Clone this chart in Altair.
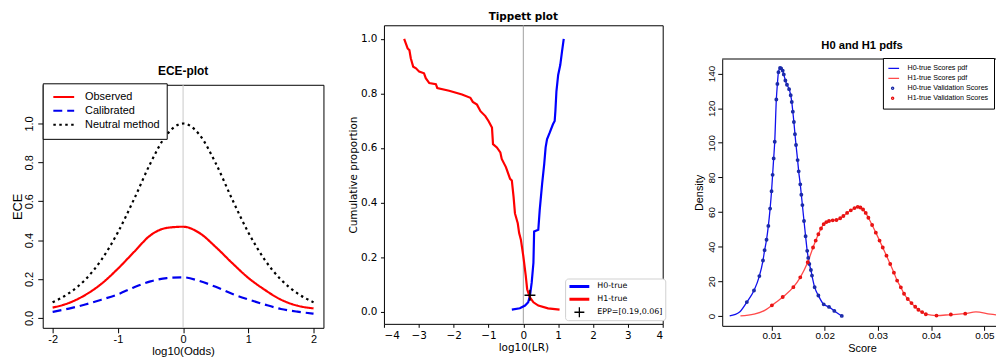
import altair as alt
import pandas as pd

# ---------------- data: ECE plot ----------------
ece_x = [-2.0, -1.75, -1.5, -1.25, -1.0, -0.75, -0.5, -0.25, 0.0, 0.25, 0.5, 0.75, 1.0, 1.25, 1.5, 1.75, 2.0]
ece_observed = [0.053, 0.077, 0.118, 0.176, 0.253, 0.340, 0.425, 0.463, 0.469, 0.437, 0.365, 0.283, 0.206, 0.145, 0.094, 0.063, 0.049]
ece_calibrated = [0.031, 0.048, 0.069, 0.094, 0.121, 0.158, 0.188, 0.205, 0.209, 0.190, 0.160, 0.124, 0.095, 0.069, 0.046, 0.032, 0.022]
ece_neutral = [0.080, 0.127, 0.197, 0.300, 0.440, 0.612, 0.796, 0.943, 1.000, 0.943, 0.796, 0.612, 0.440, 0.300, 0.197, 0.127, 0.080]
ece_series = ["Observed", "Calibrated", "Neutral method"]

# ---------------- data: Tippett plot ----------------
h1_lr = [-3.42, -3.37, -3.32, -3.27, -3.23, -3.16, -3.08, -2.99, -2.85, -2.80, -2.70, -2.51, -2.47, -2.13,
         -1.76, -1.52, -1.45, -1.33, -1.23, -1.09, -1.00, -0.95, -0.90, -0.87, -0.76, -0.66, -0.62, -0.50,
         -0.38, -0.33, -0.28, -0.24, -0.16, -0.12, -0.07, 0.00, 0.07, 0.11, 0.19, 0.29, 0.43, 0.71, 1.04]
h1_prop = [1.000, 0.983, 0.965, 0.959, 0.929, 0.898, 0.892, 0.880, 0.874, 0.856, 0.838, 0.834, 0.820, 0.810,
           0.796, 0.784, 0.769, 0.759, 0.735, 0.717, 0.699, 0.687, 0.675, 0.614, 0.602, 0.584, 0.560, 0.530,
           0.487, 0.481, 0.421, 0.360, 0.324, 0.288, 0.264, 0.203, 0.131, 0.082, 0.052, 0.034, 0.022, 0.012, 0.007]
h0_lr = [-0.33, -0.10, 0.05, 0.14, 0.19, 0.24, 0.29, 0.31, 0.43, 0.47, 0.54, 0.60, 0.64, 0.68, 0.76, 0.85,
         0.90, 0.92, 0.95, 1.00, 1.06, 1.11, 1.16]
h0_prop = [0.007, 0.012, 0.022, 0.034, 0.058, 0.106, 0.179, 0.294, 0.300, 0.372, 0.469, 0.542, 0.602, 0.632,
           0.657, 0.687, 0.699, 0.735, 0.808, 0.868, 0.904, 0.953, 1.000]
epp_lr = [0.19]
epp_prop = [0.06]
tip_series = ["H0-true", "H1-true", "EPP=[0.19,0.06]"]

# ---------------- data: H0 and H1 pdfs ----------------
h0_score = [0.00213, 0.0040, 0.00536, 0.0067, 0.00771, 0.00839, 0.0087, 0.00906, 0.0094, 0.00973, 0.0100,
            0.0102, 0.0104, 0.0106, 0.0109, 0.0111, 0.0113, 0.0116, 0.0118, 0.0121, 0.0123, 0.0126, 0.0129,
            0.0133, 0.0136, 0.0138, 0.0140, 0.0142, 0.0144, 0.0146, 0.0149, 0.0151, 0.0154, 0.0156, 0.0158,
            0.0161, 0.0164, 0.0167, 0.0169, 0.0171, 0.0174, 0.0176, 0.0181, 0.0188, 0.0198, 0.0208, 0.0218,
            0.0232]
h0_density = [0, 2.3, 8, 14.7, 23, 32, 38, 44, 52, 62, 72,
              81.5, 91, 100.6, 125, 134, 140.8, 143.2, 143, 141.7, 139.5, 136, 133.5,
              131, 127.5, 123.6, 118, 112, 105, 98.7, 90, 83.5, 76, 70, 64,
              54.8, 46, 37.6, 33.5, 30, 26.5, 23.3, 16.6, 11.8, 6.7, 5.2, 2.9,
              0]
h1_score = [0.00415, 0.0067, 0.00872, 0.01007, 0.0121, 0.0141, 0.0154, 0.0168, 0.0178, 0.0183, 0.0188,
            0.0193, 0.0198, 0.0203, 0.0208, 0.0215, 0.0222, 0.0229, 0.0235, 0.0242, 0.0249, 0.0256, 0.0262,
            0.0267, 0.0272, 0.0277, 0.0282, 0.0289, 0.0296, 0.0303, 0.0309, 0.0316, 0.0323, 0.0330, 0.0336,
            0.0343, 0.0349, 0.0356, 0.0363, 0.0370, 0.0376, 0.0383, 0.0390, 0.0410, 0.0437, 0.0464, 0.0484,
            0.0511, 0.0551]
h1_density = [0, 1, 3.2, 6.1, 10.9, 16.6, 22.3, 31, 39.5, 43.5, 47.2,
              50.5, 53, 54.2, 54.8, 55.2, 55.4, 56.4, 57.7, 59.5, 61, 62.3, 63,
              62.6, 61.5, 59.5, 56.7, 52.5, 48.1, 43.5, 39.5, 34.8, 30, 25, 20.4,
              16.5, 12.8, 9.8, 7.4, 5.3, 3.6, 2.2, 1, 0.2, 0.8, 1.3, 2.3,
              1, 0]
h0_dot_range = [0.0049, 0.0233]
h1_dot_range = [0.0100, 0.0465]
pdf_entries = ["H0-true Scores pdf", "H1-true Scores pdf", "H0-true Validation Scores", "H1-true Validation Scores"]

R_FONT = "Liberation Sans"
MPL_FONT = "DejaVu Sans"


def spacer(w, h):
    return alt.Chart(pd.DataFrame({"s": [0]})).mark_rect(opacity=0).encode(
        x=alt.value(0), x2=alt.value(1), y=alt.value(0), y2=alt.value(1)
    ).properties(width=w, height=h, view=alt.ViewBackground(stroke="transparent", strokeWidth=0))


# ================= Panel 1: ECE =================
SP1 = 39
ece_df = pd.DataFrame({
    "x": ece_x * 3,
    "y": ece_observed + ece_calibrated + ece_neutral,
    "series": [ece_series[0]] * len(ece_x) + [ece_series[1]] * len(ece_x) + [ece_series[2]] * len(ece_x),
})
x1s = alt.Scale(domain=[-2.152, 2.152], nice=False, zero=False)
y1s = alt.Scale(domain=[-0.051, 1.199], nice=False, zero=False)
x1a = alt.Axis(values=[-2, -1, 0, 1, 2], format="d", title="log10(Odds)", domain=False, grid=False,
               tickColor="black", tickSize=5, labelPadding=1, labelFont=R_FONT, labelFontSize=11,
               labelColor="black", titleFont=R_FONT, titleFontSize=11.5, titleFontWeight="normal",
               titleColor="black", titlePadding=0.5, labelExpr="replace(datum.label, '\u2212', '-')")
y1a = alt.Axis(values=[0, 0.2, 0.4, 0.6, 0.8, 1.0], format=".1f", title="ECE", domain=False, grid=False,
               tickColor="black", tickSize=5, labelPadding=8, labelAngle=270, labelAlign="center",
               labelBaseline="middle", labelFont=R_FONT, labelFontSize=11, labelColor="black",
               titleFont=R_FONT, titleFontSize=13, titleFontWeight="normal", titleColor="black",
               titlePadding=-1)
ece_legend = alt.Legend(orient="none", legendX=0, legendY=SP1 + 19.5, title=None, fillColor="white",
                        strokeColor="black", padding=6.7, cornerRadius=0, symbolSize=441,
                        symbolStrokeWidth=2, labelFont=R_FONT, labelFontSize=11,
                        labelColor="black", labelOffset=10, symbolOffset=3, clipHeight=14,
                        rowPadding=0, symbolType="stroke")
ece_rule = alt.Chart(pd.DataFrame({"x": [0.0]})).mark_rule(color="#c8c8c8", strokeWidth=1).encode(
    x=alt.X("x:Q", scale=x1s, axis=x1a))
ece_lines = alt.Chart(ece_df).mark_line(strokeWidth=2.2, interpolate="monotone").encode(
    x=alt.X("x:Q", scale=x1s, axis=x1a),
    y=alt.Y("y:Q", scale=y1s, axis=y1a),
    color=alt.Color("series:N", sort=ece_series,
                    scale=alt.Scale(domain=ece_series, range=["#ff0000", "#0000ee", "#000000"]),
                    legend=ece_legend),
    strokeDash=alt.StrokeDash("series:N", sort=ece_series,
                              scale=alt.Scale(domain=ece_series, range=[[1, 0], [9, 5], [2.5, 3.5]]),
                              legend=ece_legend),
)
ece = alt.layer(ece_rule, ece_lines).properties(
    width=283, height=245,
    title=alt.TitleParams("ECE-plot", font=R_FONT, fontSize=12, fontWeight="bold", color="black", offset=6.5),
)
panel1 = alt.vconcat(spacer(1, SP1), ece, spacing=0)

# ================= Panel 2: Tippett =================
h0_tip = pd.DataFrame({"lr": h0_lr, "prop": h0_prop, "idx": list(range(len(h0_lr)))})
h1_tip = pd.DataFrame({"lr": h1_lr, "prop": h1_prop, "idx": list(range(len(h1_lr)))})
epp_df = pd.DataFrame({"lr": epp_lr, "prop": epp_prop, "series": [tip_series[2]]})
x2s = alt.Scale(domain=[-4, 4], nice=False, zero=False)
y2s = alt.Scale(domain=[-0.045, 1.05], nice=False, zero=False)
x2a = alt.Axis(values=[-4, -3, -2, -1, 0, 1, 2, 3, 4], format="d", title="log10(LR)", domain=False, grid=False,
               tickColor="black", tickSize=3.5, labelPadding=3, labelFont=MPL_FONT, labelFontSize=10.5,
               labelColor="black", titleFont=MPL_FONT, titleFontSize=10.5, titleFontWeight="normal",
               titleColor="black", titlePadding=2)
y2a = alt.Axis(values=[0, 0.2, 0.4, 0.6, 0.8, 1.0], format=".1f", title="Cumulative proportion", domain=False,
               grid=False, tickColor="black", tickSize=3.5, labelPadding=3.5, labelFont=MPL_FONT,
               labelFontSize=10.5, labelColor="black", titleFont=MPL_FONT, titleFontSize=10.5,
               titleFontWeight="normal", titleColor="black", titlePadding=2)
tip_color = alt.Scale(domain=tip_series, range=["#0000ff", "#ff0000", "#000000"])
line_path = "M-1,-0.15H1V0.15H-1Z"
plus_path = "M-0.5,-0.065H-0.065V-0.5H0.065V-0.065H0.5V0.065H0.065V0.5H-0.065V0.065H-0.5Z"
tip_legend = alt.Legend(orient="none", legendX=182.6, legendY=255.3, title=None, fillColor="white",
                        strokeColor="#d0d0d0", cornerRadius=3, padding=2, symbolSize=400,
                        labelFont=MPL_FONT, labelFontSize=8, labelColor="black", labelOffset=7,
                        symbolOffset=1.4, clipHeight=12, rowPadding=1)
tip_rule = alt.Chart(pd.DataFrame({"lr": [0.0]})).mark_rule(color="#a0a0a0", strokeWidth=1).encode(
    x=alt.X("lr:Q", scale=x2s, axis=x2a))
tip_h0 = alt.Chart(h0_tip).mark_line(strokeWidth=2.2, color="#0000ff").encode(
    x=alt.X("lr:Q", scale=x2s, axis=x2a), y=alt.Y("prop:Q", scale=y2s, axis=y2a), order="idx:Q")
tip_h1 = alt.Chart(h1_tip).mark_line(strokeWidth=2.2, color="#ff0000").encode(
    x=alt.X("lr:Q", scale=x2s, axis=x2a), y=alt.Y("prop:Q", scale=y2s, axis=y2a), order="idx:Q")
tip_epp = alt.Chart(epp_df).mark_point(filled=True, size=484, opacity=1, strokeWidth=0).encode(
    x=alt.X("lr:Q", scale=x2s, axis=x2a),
    y=alt.Y("prop:Q", scale=y2s, axis=y2a),
    color=alt.Color("series:N", scale=tip_color, legend=tip_legend),
    shape=alt.Shape("series:N", scale=alt.Scale(domain=tip_series, range=[line_path, line_path, plus_path]),
                    legend=tip_legend),
)
tippett = alt.layer(tip_rule, tip_h0, tip_h1, tip_epp).properties(
    width=281, height=301,
    title=alt.TitleParams("Tippett plot", font=MPL_FONT, fontSize=10.5, fontWeight="bold", color="black",
                          offset=2),
)

# ================= Panel 3: pdfs =================
SP3 = 14.5
W3, H3 = 282, 269
h0_df = pd.DataFrame({"score": h0_score, "density": h0_density})
h1_df = pd.DataFrame({"score": h1_score, "density": h1_density})
dots_df = pd.concat([
    h0_df[(h0_df.score >= h0_dot_range[0]) & (h0_df.score <= h0_dot_range[1])].assign(entry=pdf_entries[2]),
    h1_df[(h1_df.score >= h1_dot_range[0]) & (h1_df.score <= h1_dot_range[1])].assign(entry=pdf_entries[3]),
])
x3s = alt.Scale(domain=[0.00073, 0.00073 + W3 / 5364.0], nice=False, zero=False)
y3s = alt.Scale(domain=[-5.73, 148.4], nice=False, zero=False)
x3a = alt.Axis(values=[0.01, 0.02, 0.03, 0.04, 0.05], format=".2f", title="Score", domain=True,
               domainColor="black", grid=False, tickColor="black", tickSize=4.5, labelPadding=0,
               labelFont=R_FONT, labelFontSize=10, labelColor="black", titleFont=R_FONT, titleFontSize=11,
               titleFontWeight="normal", titleColor="black", titlePadding=2)
y3a = alt.Axis(values=[0, 20, 40, 60, 80, 100, 120, 140], format="d", title="Density", domain=True,
               domainColor="black", grid=False, tickColor="black", tickSize=4.5, labelPadding=6.5,
               labelAngle=270, labelAlign="center", labelBaseline="middle", labelFont=R_FONT,
               labelFontSize=10, labelColor="black", titleFont=R_FONT, titleFontSize=11,
               titleFontWeight="normal", titleColor="black", titlePadding=1.5)
circle_path = "M-0.17,0A0.17,0.17,0,1,1,0.17,0A0.17,0.17,0,1,1,-0.17,0Z"
pdf_legend = alt.Legend(orient="none", legendX=162, legendY=SP3 + 18.5, title=None, fillColor="white",
                        strokeColor="black", padding=5.5, cornerRadius=0, symbolSize=169,
                        symbolStrokeWidth=1.3, labelFont=R_FONT, labelFontSize=7.2, labelColor="black",
                        labelOffset=7.5, symbolOffset=-3.2, clipHeight=10, rowPadding=0)
top_rule = alt.Chart(pd.DataFrame({"s": [0]})).mark_rule(color="black", strokeWidth=1).encode(
    x=alt.value(0), x2=alt.value(W3), y=alt.value(0))
h0_line = alt.Chart(h0_df).mark_line(color="#1010ee", strokeWidth=1.3, interpolate="monotone").encode(
    x=alt.X("score:Q", scale=x3s, axis=x3a), y=alt.Y("density:Q", scale=y3s, axis=y3a))
h1_line = alt.Chart(h1_df).mark_line(color="#ff4a4a", strokeWidth=1.3, interpolate="monotone").encode(
    x=alt.X("score:Q", scale=x3s, axis=x3a), y=alt.Y("density:Q", scale=y3s, axis=y3a))
dots = alt.Chart(dots_df).mark_point(filled=False, size=169, strokeWidth=1.7, opacity=1).encode(
    x=alt.X("score:Q", scale=x3s, axis=x3a),
    y=alt.Y("density:Q", scale=y3s, axis=y3a),
    color=alt.Color("entry:N", scale=alt.Scale(domain=pdf_entries,
                                               range=["#1010ee", "#ff4a4a", "#1a2aa8", "#e81010"]),
                    legend=pdf_legend),
    shape=alt.Shape("entry:N", scale=alt.Scale(domain=pdf_entries,
                                               range=["M-1,0H1", "M-1,0H1", circle_path, circle_path]),
                    legend=pdf_legend),
)
pdfs = alt.layer(top_rule, h0_line, h1_line, dots).properties(
    width=W3, height=H3,
    view=alt.ViewBackground(stroke="transparent", strokeWidth=0),
    title=alt.TitleParams("H0 and H1 pdfs", font=R_FONT, fontSize=11.3, fontWeight="bold", color="black",
                          offset=7),
)
panel3 = alt.vconcat(spacer(1, SP3), pdfs, spacing=0)

L, T = 35, 16
chart = alt.hconcat(panel1, spacer(23, 1), tippett, spacer(27, 1), panel3, spacing=0).resolve_scale(
    color="independent", shape="independent", strokeDash="independent"
).resolve_legend(
    color="independent", shape="independent", strokeDash="independent"
).properties(
    background="white",
    autosize=alt.AutoSizeParams(type="none"),
    padding={"left": L, "top": T, "right": 996 - L, "bottom": 350 - T},
).configure_view(stroke="black", strokeWidth=1)

chart.save("out.html", embed_options={"renderer": "svg", "actions": False})
